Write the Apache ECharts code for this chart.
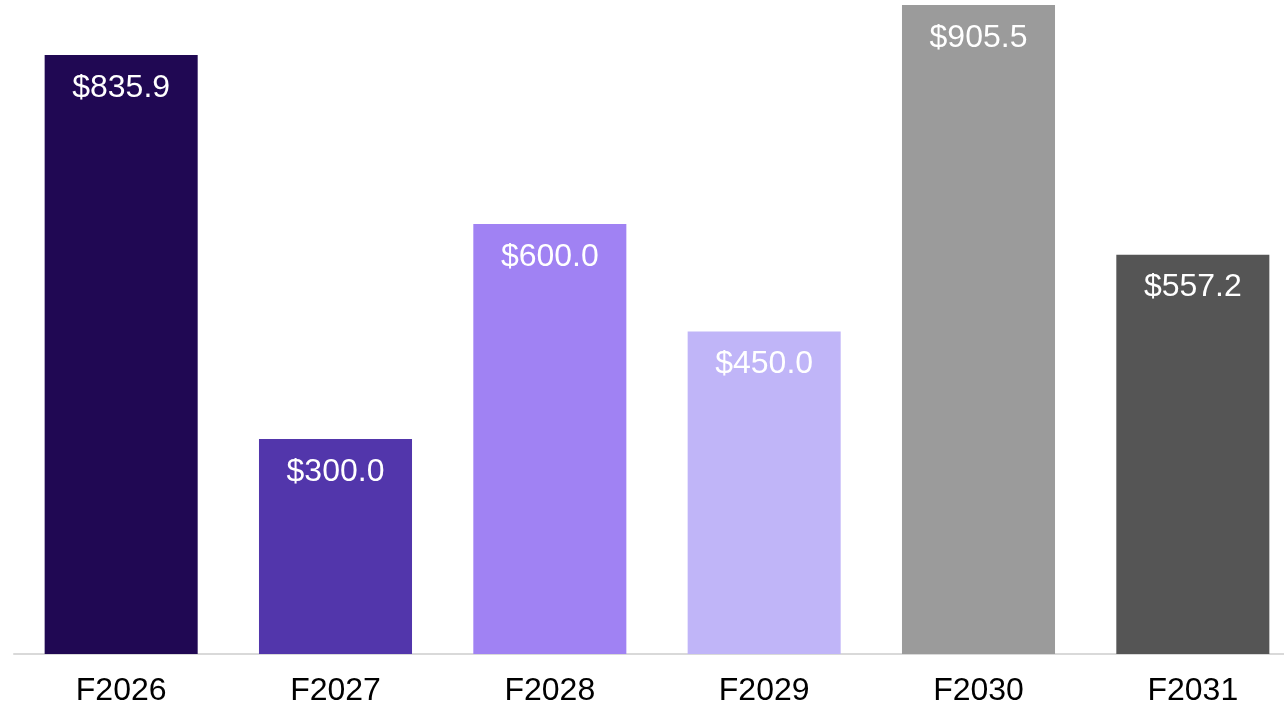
<!DOCTYPE html>
<html style="height: 100%">
<head>
    <meta charset="utf-8">
</head>
<body style="height: 100%; margin: 0">
<div id="container" style="height: 100%"></div>
<script type="text/javascript" src="https://cdn.jsdelivr.net/npm/echarts@6/dist/echarts.min.js"></script>
<script type="text/javascript">
    var categories = ['F2026', 'F2027', 'F2028', 'F2029', 'F2030', 'F2031'];
    var values = [835.9, 300.0, 600.0, 450.0, 905.5, 557.2];
    var barColors = ['#200853', '#5236AB', '#A082F3', '#C0B5F8', '#9B9B9B', '#555555'];

    var dom = document.getElementById("container");
    var myChart = echarts.init(dom);
    var font = '"Liberation Sans", Arial, sans-serif';

    var option = {
        backgroundColor: '#fff',
        animation: false,
        // plot runs past the right edge, as in the original
        grid: { left: 14, width: 1286, top: 5, bottom: 54, outerBoundsMode: 'none' },
        xAxis: {
            type: 'category',
            data: categories,
            axisLine: { lineStyle: { color: '#d9d9d9', width: 2 } },
            axisTick: { show: false },
            axisLabel: { color: '#000', fontSize: 32, fontFamily: font, margin: 21 }
        },
        yAxis: {
            type: 'value', min: 0, max: 905.5, show: false,
            splitLine: { show: false }
        },
        series: [{
            type: 'bar',
            barWidth: '71.4%',
            data: values.map(function (v, i) {
                return { value: v, itemStyle: { color: barColors[i] } };
            }),
            label: {
                show: true,
                position: 'insideTop',
                distance: 17,
                color: '#fff',
                fontSize: 32,
                fontFamily: font,
                formatter: function (p) { return '$' + p.value.toFixed(1); }
            }
        }]
    };
    myChart.setOption(option, true);
</script>
</body>
</html>
